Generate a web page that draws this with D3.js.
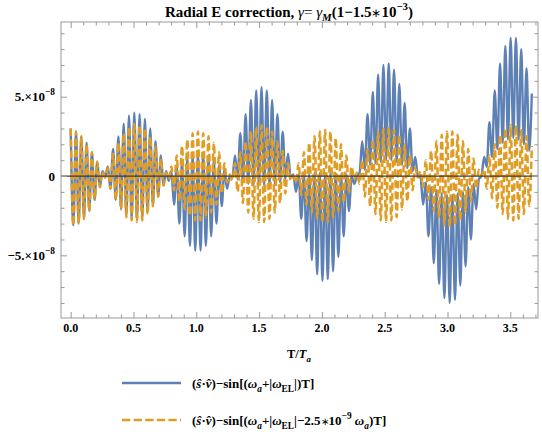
<!DOCTYPE html>
<html>
<head>
<meta charset="utf-8">
<script src="https://cdn.jsdelivr.net/npm/d3@7"></script>
<style>
  body { margin: 0; background: #fff; }
  svg { font-family: "Liberation Serif", "Times New Roman", serif; font-weight: bold; }
</style>
</head>
<body>
<script>
// fast oscillation period (in T/Ta), read from the spike spacing
const period = 0.0422

// extrema of each fast cycle, in units of 1e-8 (peak i at i*period, trough i half a period later)
const bluePeaks = [
  3.0, 2.8, 2.5, 2.1, 1.5, 0.9, 0.3,
  0.6, 1.7, 2.5, 3.3, 3.8, 4.0, 3.9, 3.6, 3.0, 2.2, 1.3, 0.3,
  0.3, 0.6, 0.9, 1.2, 1.3, 1.4, 1.4, 1.2, 1.0, 0.7, 0.4, 0.0,
  1.3, 2.7, 3.9, 4.8, 5.4, 5.6, 5.4, 4.8, 3.9, 2.8, 1.4, 0.1,
  0.1, 0.1, 0.1, 0.2, 0.2, 0.2, 0.2, 0.2, 0.1, 0.1, 0.0, 0.0,
  2.2, 3.9, 5.3, 6.4, 7.0, 7.1, 6.7, 5.8, 4.6, 3.0, 1.2,
  -0.1, -0.4, -0.7, -0.9, -1.1, -1.2, -1.2, -1.1, -1.0, -0.7, -0.5, -0.2,
  1.2, 3.4, 5.4, 7.1, 8.2, 8.7, 8.7, 8.0, 6.8, 5.2
]
const blueTroughs = [
  -3.1, -3.0, -2.7, -2.2, -1.5, -0.7, -0.1,
  -0.8, -1.5, -2.1, -2.5, -2.7, -2.8, -2.7, -2.3, -1.9, -1.3, -0.6, -0.3,
  -1.8, -3.0, -3.8, -4.4, -4.7, -4.7, -4.4, -3.8, -3.0, -1.9, -0.8, -0.1,
  -0.2, -0.4, -0.5, -0.6, -0.6, -0.6, -0.6, -0.5, -0.4, -0.2, -0.1, -1.0,
  -2.7, -4.1, -5.3, -6.2, -6.6, -6.5, -6.0, -5.1, -3.8, -2.2, -0.5, 0.2,
  0.4, 0.7, 0.8, 0.9, 1.0, 1.0, 0.9, 0.7, 0.5, 0.3, 0.0,
  -1.8, -3.8, -5.5, -6.8, -7.7, -8.0, -7.8, -6.9, -5.7, -4.0, -2.1, 0.0,
  0.6, 1.2, 1.7, 2.1, 2.3, 2.4, 2.3, 2.0, 1.6
]
const orangePeaks = [
  3.0, 2.8, 2.5, 2.0, 1.5, 0.9, 0.3,
  0.5, 1.4, 2.1, 2.7, 3.1, 3.3, 3.2, 3.0, 2.5, 1.9, 1.1, 0.2,
  0.6, 1.3, 1.9, 2.3, 2.7, 2.8, 2.7, 2.5, 2.1, 1.5, 0.8, 0.1,
  0.8, 1.5, 2.2, 2.8, 3.1, 3.2, 3.1, 2.8, 2.2, 1.6, 0.8, 0.0,
  0.8, 1.5, 2.1, 2.5, 2.8, 2.9, 2.8, 2.4, 2.0, 1.3, 0.6, 0.2,
  1.0, 1.7, 2.3, 2.8, 3.0, 3.1, 2.9, 2.6, 2.0, 1.3, 0.5,
  0.3, 1.0, 1.6, 2.2, 2.6, 2.8, 2.8, 2.6, 2.2, 1.7, 1.1, 0.4,
  0.4, 1.3, 2.0, 2.6, 3.0, 3.2, 3.2, 2.9, 2.5, 1.9
]
const orangeTroughs = [
  -3.1, -3.0, -2.7, -2.2, -1.5, -0.7, -0.1,
  -0.8, -1.5, -2.1, -2.6, -2.8, -2.9, -2.8, -2.4, -1.9, -1.3, -0.6, -0.2,
  -0.9, -1.6, -2.1, -2.5, -2.8, -2.8, -2.6, -2.3, -1.8, -1.1, -0.4, -0.3,
  -1.0, -1.7, -2.3, -2.7, -2.9, -2.9, -2.7, -2.3, -1.7, -1.1, -0.3, -0.4,
  -1.2, -1.8, -2.3, -2.7, -2.9, -2.9, -2.6, -2.2, -1.7, -1.0, -0.2, -0.5,
  -1.3, -1.9, -2.4, -2.8, -2.9, -2.8, -2.6, -2.1, -1.6, -0.9, -0.1,
  -0.7, -1.5, -2.2, -2.7, -3.1, -3.2, -3.1, -2.8, -2.3, -1.6, -0.8, 0.0,
  -0.8, -1.4, -2.0, -2.4, -2.7, -2.8, -2.7, -2.4, -1.9
]

const xMajor = [0, 0.5, 1, 1.5, 2, 2.5, 3, 3.5]
const xLabels = ['0.0', '0.5', '1.0', '1.5', '2.0', '2.5', '3.0', '3.5']
const yMajor = [-5, 0, 5]
const yLabels = [['\u22125.\u00d710', '\u22128'], ['0', null], ['5.\u00d710', '\u22128']]

const blue = '#5E81B5'
const orange = '#E19C24'
const frameColor = '#999'

const width = 542
const height = 442

const svg = d3.select('body').append('svg')
  .attr('width', width)
  .attr('height', height)

const x = d3.scaleLinear().domain([-0.0772, 3.7205]).range([61, 538])
const y = d3.scaleLinear().domain([-8.95, 9.71]).range([318, 22])

// text with sub/superscripts, italics
const rich = (sel, parts, size) => {
  let shift = 0
  parts.forEach(p => {
    const target = p.sub ? size * 0.28 : p.sup ? -size * 0.45 : 0
    const ts = sel.append('tspan').text(p.t).attr('dy', target - shift)
    shift = target
    if (p.sub || p.sup) ts.attr('font-size', size * 0.72)
    if (p.small) ts.attr('font-size', size * 0.8).attr('font-weight', 'normal')
    if (p.i) ts.attr('font-style', 'italic')
    if (p.n) ts.attr('font-weight', 'normal')
  })
}

const series = (peaks, troughs) => {
  const pts = []
  peaks.forEach((v, i) => {
    pts.push({t: i * period, v: v})
    if (troughs[i] != null) pts.push({t: (i + 0.5) * period, v: troughs[i]})
  })
  return pts
}

svg.append('clipPath').attr('id', 'clip')
  .append('rect').attr('x', 61).attr('y', 22).attr('width', 477).attr('height', 296)

const line = d3.line()
  .x(d => x(d.t))
  .y(d => y(d.v))
  .curve(d3.curveMonotoneX)

const plot = svg.append('g').attr('clip-path', 'url(#clip)')

plot.append('path')
  .datum(series(bluePeaks, blueTroughs))
  .attr('d', line)
  .style('fill', 'none')
  .style('stroke', blue)
  .style('stroke-width', 2.4)
  .style('stroke-linejoin', 'round')

plot.append('path')
  .datum(series(orangePeaks, orangeTroughs))
  .attr('d', line)
  .style('fill', 'none')
  .style('stroke', orange)
  .style('stroke-width', 2.5)
  .style('stroke-dasharray', '7.5,3.5')

// axis line at zero
plot.append('line')
  .attr('x1', 61).attr('x2', 538)
  .attr('y1', y(0)).attr('y2', y(0))
  .style('stroke', '#3a3a3a')
  .style('stroke-width', 1.2)

// frame with ticks on all four sides
const tickStyle = g => {
  g.select('.domain').remove()
  g.selectAll('line').style('stroke', frameColor)
  g.selectAll('text').remove()
}
const xMinor = d3.range(0, 3.75, 0.1).filter(v => Math.abs(v * 2 - Math.round(v * 2)) > 1e-6)
const yMinor = d3.range(-8, 10, 1).filter(v => v % 5 !== 0)

svg.append('g').attr('transform', 'translate(0,318)')
  .call(d3.axisBottom(x).tickValues(xMajor).tickSize(-6)).call(tickStyle)
svg.append('g').attr('transform', 'translate(0,318)')
  .call(d3.axisBottom(x).tickValues(xMinor).tickSize(-3.5)).call(tickStyle)
svg.append('g').attr('transform', 'translate(0,22)')
  .call(d3.axisTop(x).tickValues(xMajor).tickSize(-6)).call(tickStyle)
svg.append('g').attr('transform', 'translate(0,22)')
  .call(d3.axisTop(x).tickValues(xMinor).tickSize(-3.5)).call(tickStyle)
svg.append('g').attr('transform', 'translate(61,0)')
  .call(d3.axisLeft(y).tickValues(yMajor).tickSize(-6)).call(tickStyle)
svg.append('g').attr('transform', 'translate(61,0)')
  .call(d3.axisLeft(y).tickValues(yMinor).tickSize(-3.5)).call(tickStyle)
svg.append('g').attr('transform', 'translate(538,0)')
  .call(d3.axisRight(y).tickValues(yMajor).tickSize(-6)).call(tickStyle)
svg.append('g').attr('transform', 'translate(538,0)')
  .call(d3.axisRight(y).tickValues(yMinor).tickSize(-3.5)).call(tickStyle)

svg.append('rect')
  .attr('x', 61).attr('y', 22).attr('width', 477).attr('height', 296)
  .style('fill', 'none')
  .style('stroke', frameColor)
  .style('stroke-width', 1)

// tick labels
svg.selectAll('.xlabel')
  .data(xMajor)
  .enter()
  .append('text')
    .attr('class', 'xlabel')
    .attr('x', d => x(d))
    .attr('y', 332)
    .attr('text-anchor', 'middle')
    .style('font-size', '12px')
    .text((d, i) => xLabels[i])

yMajor.forEach((v, i) => {
  const t = svg.append('text')
    .attr('x', 55)
    .attr('y', y(v) + 4.5)
    .attr('text-anchor', 'end')
    .style('font-size', '13px')
  const [base, exp] = yLabels[i]
  if (exp) rich(t, [{t: base}, {t: exp, sup: true}], 13)
  else t.text(base)
})

// title
const title = svg.append('text')
  .attr('x', 289).attr('y', 17)
  .attr('text-anchor', 'middle')
  .style('font-size', '15px')
rich(title, [
  {t: 'Radial E correction, '},
  {t: '\u03b3', i: true, n: true},
  {t: '= ', n: true},
  {t: '\u03b3', i: true, n: true},
  {t: 'M', i: true, sub: true},
  {t: '(1\u22121.5'},
  {t: '\u2217', small: true},
  {t: '10'},
  {t: '\u22123', sup: true},
  {t: ')'}
], 15)

// x axis label
const xl = svg.append('text')
  .attr('x', 299).attr('y', 358)
  .attr('text-anchor', 'middle')
  .style('font-size', '12.5px')
rich(xl, [{t: 'T/'}, {t: 'T', i: true}, {t: 'a', i: true, sub: true}], 12.5)

// legend
const legend = svg.append('g')
legend.append('line')
  .attr('x1', 122).attr('x2', 181).attr('y1', 383).attr('y2', 383)
  .style('stroke', blue).style('stroke-width', 2.4)
legend.append('line')
  .attr('x1', 122).attr('x2', 181).attr('y1', 420).attr('y2', 420)
  .style('stroke', orange).style('stroke-width', 2.4)
  .style('stroke-dasharray', '8.3,3.3')

const head = [
  {t: '('}, {t: '\u015d', i: true}, {t: '\u00b7'}, {t: 'v\u0302', i: true},
  {t: ')\u2212sin[('}, {t: '\u03c9', i: true}, {t: 'a', i: true, sub: true},
  {t: '+|'}, {t: '\u03c9', i: true}, {t: 'EL', sub: true}
]
const l1 = legend.append('text').attr('x', 192).attr('y', 388).style('font-size', '13px')
rich(l1, head.concat([{t: '|)T]'}]), 13)
const l2 = legend.append('text').attr('x', 192).attr('y', 425).style('font-size', '13px')
rich(l2, head.concat([
  {t: '|\u22122.5'}, {t: '\u2217', small: true}, {t: '10'}, {t: '\u22129', sup: true}, {t: ' '},
  {t: '\u03c9', i: true}, {t: 'a', i: true, sub: true}, {t: ')T]'}
]), 13)
</script>
</body>
</html>
